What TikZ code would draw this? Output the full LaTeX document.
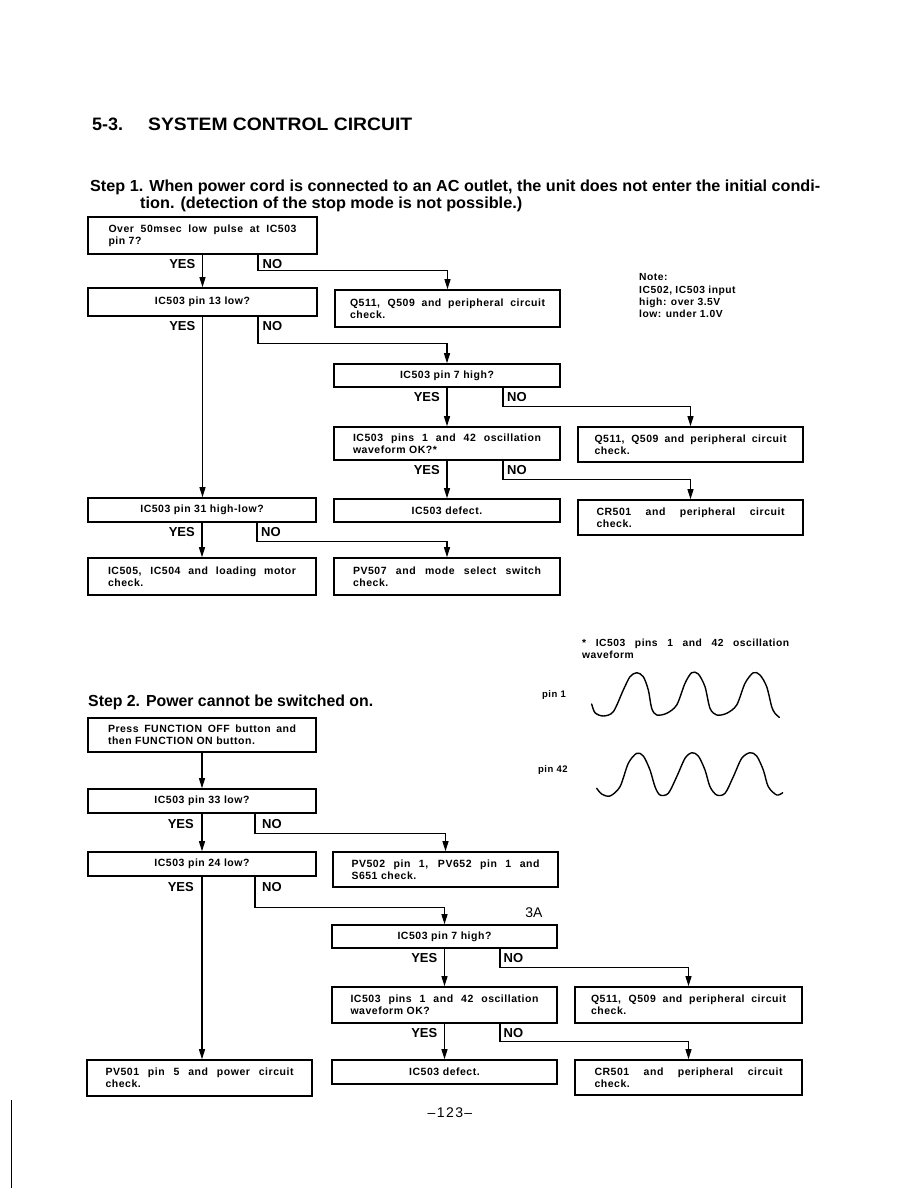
\documentclass[tikz,border=0pt]{standalone}
\usepackage{fontspec}
\setmainfont{Liberation Sans}
\newfontfamily\boxfont[LetterSpace=5]{Liberation Sans}
\newfontfamily\pgfont[LetterSpace=10]{Liberation Sans}
\usepackage{graphicx}
\usetikzlibrary{arrows.meta}
\tikzset{
  box/.style={draw, line width=1.6pt, inner sep=0pt, text width=188pt, align=justify,
    font=\boxfont\bfseries\fontsize{10.5}{12}\selectfont},
  cbox/.style={box, align=center},
  conn/.style={line width=1.1pt, -{Triangle[length=10pt,width=6pt]}},
  lab/.style={font=\bfseries\fontsize{13}{13}\selectfont, inner sep=0pt},
  small/.style={inner sep=0pt, font=\boxfont\bfseries\fontsize{10.3}{12.3}\selectfont},
  head/.style={anchor=base west, inner sep=0pt},
  wave/.style={line width=1.4pt, line cap=round, line join=round}
}
\begin{document}
\begin{tikzpicture}[x=1pt,y=-1pt]
\useasboundingbox[fill=white] (0,0) rectangle (918,1188);

% headings
\node[head] (t1) at (92,131) {\fontsize{18}{18}\selectfont\bfseries 5-3.};
\node[head] (t2) at (148,131) {\resizebox{264pt}{\height}{\fontsize{18}{18}\selectfont\bfseries SYSTEM CONTROL CIRCUIT}};
\node[head] (s1a) at (90,191) {\resizebox{730pt}{\height}{\fontsize{16}{16}\selectfont\bfseries Step 1. When power cord is connected to an AC outlet, the unit does not enter the initial condi-}};
\node[head] (s1b) at (140,208) {\resizebox{382pt}{\height}{\fontsize{16}{16}\selectfont\bfseries tion. (detection of the stop mode is not possible.)}};
\node[head] (s2) at (88,706) {\resizebox{285pt}{\height}{\fontsize{16}{16}\selectfont\bfseries Step 2. Power cannot be switched on.}};

% ---------- Step 1 boxes ----------
\node[box, minimum width=229pt, minimum height=37pt] (A) at (202.5,235.5) {Over 50msec low pulse at IC503\linebreak pin 7?};
\node[cbox, minimum width=229pt, minimum height=28pt] (B) at (202.5,302) {IC503 pin 13 low?};
\node[box, text width=195pt, minimum width=225pt, minimum height=37pt] (Q1) at (447.5,308.5) {Q511, Q509 and peripheral circuit\linebreak check.};
\node[cbox, minimum width=226pt, minimum height=23pt] (C) at (447,375.5) {IC503 pin 7 high?};
\node[box, minimum width=226pt, minimum height=33pt] (D) at (447,443.5) {IC503 pins 1 and 42 oscillation\linebreak waveform OK?*};
\node[box, text width=192pt, minimum width=225pt, minimum height=35pt] (E) at (690.5,444.5) {Q511, Q509 and peripheral circuit\linebreak check.};
\node[cbox, minimum width=226pt, minimum height=23pt] (F) at (447,510.5) {IC503 defect.};
\node[box, minimum width=225pt, minimum height=35pt] (G) at (690.5,517.5) {CR501 and peripheral circuit\linebreak check.};
\node[cbox, minimum width=228pt, minimum height=24pt] (H) at (202,510) {IC503 pin 31 high-low?};
\node[box, minimum width=228pt, minimum height=37pt] (I) at (202,576.5) {IC505, IC504 and loading motor\linebreak check.};
\node[box, minimum width=226pt, minimum height=37pt] (J) at (447,576.5) {PV507 and mode select switch\linebreak check.};

\node[small, anchor=north west, align=left] (note) at (639,273.5) {Note:\\IC502, IC503 input\\high: over 3.5V\\low: under 1.0V};

% Step 1 connectors
\draw[conn] (A.south) -- (A.south |- B.north);
\draw[conn] ([xshift=55.5pt]A.south) -- ++(0,16) -| (Q1.north);
\node[lab, anchor=east] (yA) at ([xshift=-7pt,yshift=-9pt]A.south) {YES};
\node[lab, anchor=west] (nA) at ([xshift=60pt,yshift=-9pt]A.south) {NO};

\draw[conn] (B.south) -- (B.south |- H.north);
\draw[conn] ([xshift=55.5pt]B.south) -- ++(0,27) -| (C.north);
\node[lab, anchor=east] (yB) at ([xshift=-7pt,yshift=-9pt]B.south) {YES};
\node[lab, anchor=west] (nB) at ([xshift=60pt,yshift=-9pt]B.south) {NO};

\draw[conn] (C.south) -- (C.south |- D.north);
\draw[conn] ([xshift=56pt]C.south) -- ++(0,19) -| (E.north);
\node[lab, anchor=east] (yC) at ([xshift=-7pt,yshift=-9pt]C.south) {YES};
\node[lab, anchor=west] (nC) at ([xshift=60pt,yshift=-9pt]C.south) {NO};

\draw[conn] (D.south) -- (D.south |- F.north);
\draw[conn] ([xshift=56pt]D.south) -- ++(0,19) -| (G.north);
\node[lab, anchor=east] (yD) at ([xshift=-7pt,yshift=-9pt]D.south) {YES};
\node[lab, anchor=west] (nD) at ([xshift=60pt,yshift=-9pt]D.south) {NO};

\draw[conn] (H.south) -- (H.south |- I.north);
\draw[conn] ([xshift=55pt]H.south) -- ++(0,19) -| (J.north);
\node[lab, anchor=east] (yH) at ([xshift=-7pt,yshift=-9pt]H.south) {YES};
\node[lab, anchor=west] (nH) at ([xshift=59pt,yshift=-9pt]H.south) {NO};

% waveform note
\node[small, anchor=north west, text width=207pt, align=justify] (fn) at (582,639) {* IC503 pins 1 and 42 oscillation\linebreak waveform};
\node[small, anchor=west, font=\boxfont\bfseries\fontsize{9.5}{9.5}\selectfont] (p1) at (542,695) {pin 1};
\node[small, anchor=west, font=\boxfont\bfseries\fontsize{9.5}{9.5}\selectfont] (p42) at (538,770) {pin 42};
\draw[wave] plot[smooth] coordinates {(591.7,704) (595,712.7) (603.3,716) (613.3,711.7) (623.3,690) (630,676.7) (636.7,672.7) (643.3,676.7) (648.3,690) (651.7,708.3) (656.7,715) (666.7,713.3) (676.7,705) (685,683.3) (691.7,672.7) (698.3,674) (705,686.7) (710,708.3) (716.7,715) (726.7,713.3) (736.7,705) (745,683.3) (753.3,672.7) (760,675) (766.7,686.7) (771.7,706.7) (775,713.3) (779.3,717.3)};
\draw[wave] plot[smooth] coordinates {(596.7,788.3) (601.7,794) (610,796) (620,786.7) (628.3,763.3) (636.7,753.3) (643.3,756) (650,770) (655,786.7) (660,795) (668.3,793.3) (676.7,776.7) (685,758.3) (691.7,752.7) (698.3,756) (705,770) (710,786.7) (716.7,795) (725,793.3) (733.3,776.7) (741.7,758.3) (750,752.7) (756.7,756) (763.3,770) (768.3,786.7) (776.7,795) (782.7,792.7)};

% ---------- Step 2 boxes ----------
\node[box, minimum width=228pt, minimum height=34pt] (K) at (202,735) {Press FUNCTION OFF button and\linebreak then FUNCTION ON button.};
\node[cbox, minimum width=228pt, minimum height=24pt] (L) at (202,801) {IC503 pin 33 low?};
\node[cbox, minimum width=228pt, minimum height=24pt] (M) at (202,864) {IC503 pin 24 low?};
\node[box, minimum width=225pt, minimum height=35pt] (N) at (445.5,869.5) {PV502 pin 1, PV652 pin 1 and\linebreak S651 check.};
\node[cbox, minimum width=225pt, minimum height=23pt] (Q) at (444.5,936.5) {IC503 pin 7 high?};
\node[box, minimum width=225pt, minimum height=36pt] (R) at (444.5,1005) {IC503 pins 1 and 42 oscillation\linebreak waveform OK?};
\node[box, text width=195pt, minimum width=227pt, minimum height=36pt] (S) at (688.5,1005) {Q511, Q509 and peripheral circuit\linebreak check.};
\node[cbox, minimum width=225pt, minimum height=24pt] (T) at (444.5,1072) {IC503 defect.};
\node[box, minimum width=227pt, minimum height=35pt] (U) at (688.5,1077.5) {CR501 and peripheral circuit\linebreak check.};
\node[box, minimum width=225pt, minimum height=36pt] (P) at (199.5,1078) {PV501 pin 5 and power circuit\linebreak check.};

\node[inner sep=0pt, font=\fontsize{14}{14}\selectfont] (n3a) at (534,913) {3A};

% Step 2 connectors
\draw[conn] (K.south) -- (K.south |- L.north);

\draw[conn] (L.south) -- (L.south |- M.north);
\draw[conn] ([xshift=53pt]L.south) -- ++(0,20) -| (N.north);
\node[lab, anchor=east] (yL) at ([xshift=-8pt,yshift=-10pt]L.south) {YES};
\node[lab, anchor=west] (nL) at ([xshift=60pt,yshift=-10pt]L.south) {NO};

\draw[conn] (M.south) -- (M.south |- P.north);
\draw[conn] ([xshift=53pt]M.south) -- ++(0,31) -| (Q.north);
\node[lab, anchor=east] (yM) at ([xshift=-8pt,yshift=-10pt]M.south) {YES};
\node[lab, anchor=west] (nM) at ([xshift=60pt,yshift=-10pt]M.south) {NO};

\draw[conn] (Q.south) -- (Q.south |- R.north);
\draw[conn] ([xshift=55.5pt]Q.south) -- ++(0,19) -| (S.north);
\node[lab, anchor=east] (yQ) at ([xshift=-7pt,yshift=-9pt]Q.south) {YES};
\node[lab, anchor=west] (nQ) at ([xshift=59pt,yshift=-9pt]Q.south) {NO};

\draw[conn] (R.south) -- (R.south |- T.north);
\draw[conn] ([xshift=55.5pt]R.south) -- ++(0,18) -| (U.north);
\node[lab, anchor=east] (yR) at ([xshift=-7pt,yshift=-9pt]R.south) {YES};
\node[lab, anchor=west] (nR) at ([xshift=59pt,yshift=-9pt]R.south) {NO};

\node[inner sep=0pt, font=\pgfont\fontsize{14}{14}\selectfont] (pg) at (450,1113) {\textendash123\textendash};

\draw[line width=0.8pt] (11,1100) -- (11,1188);
\end{tikzpicture}
\end{document}
